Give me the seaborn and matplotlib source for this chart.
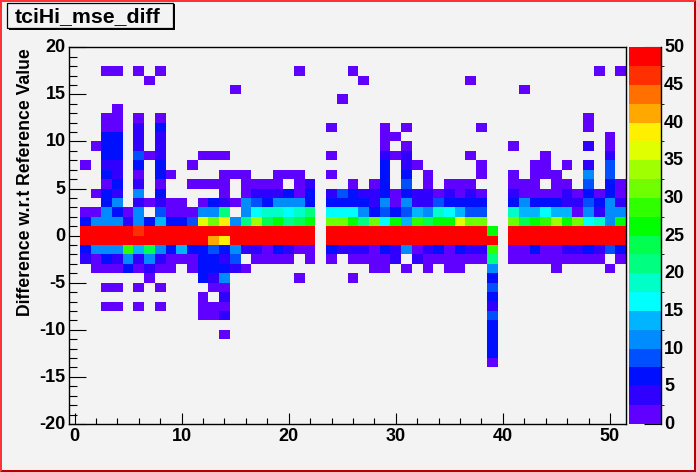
import matplotlib
matplotlib.use("Agg")
import matplotlib.pyplot as plt
from matplotlib.colors import BoundaryNorm, ListedColormap
from matplotlib.patches import Polygon, Rectangle
from matplotlib.transforms import ScaledTranslation
import numpy as np
import pandas as pd
import seaborn as sns

# counts per x bin, one dict per y bin (key of the name = lower edge of the bin)
row_17 = {3: 1, 4: 1, 6: 1, 8: 1, 21: 1, 26: 1, 49: 1, 51: 1}
row_16 = {7: 1, 27: 1, 37: 1}
row_15 = {15: 1, 42: 1}
row_14 = {25: 1}
row_13 = {4: 1}
row_12 = {3: 1, 4: 1, 6: 1, 8: 1, 48: 1}
row_11 = {3: 1, 4: 1, 6: 4, 8: 6, 24: 1, 29: 1, 31: 1, 38: 1, 48: 1}
row_10 = {3: 6, 4: 6, 6: 4, 8: 4, 29: 1, 30: 1, 50: 1}
row_9 = {2: 1, 3: 6, 4: 6, 6: 4, 8: 4, 29: 1, 31: 1, 41: 1, 48: 4, 50: 1}
row_8 = {3: 6, 4: 6, 6: 9, 7: 1, 8: 4, 12: 1, 13: 1, 14: 1, 24: 1, 29: 4, 30: 1,
         31: 4, 37: 1, 44: 1, 50: 4}
row_7 = {1: 1, 3: 4, 4: 4, 6: 6, 8: 6, 11: 1, 29: 6, 31: 4, 32: 1, 38: 1, 43: 1,
         44: 1, 46: 1, 48: 4, 50: 9}
row_6 = {3: 6, 4: 4, 6: 1, 8: 6, 9: 1, 14: 1, 15: 1, 16: 1, 19: 1, 20: 1, 21: 1,
         24: 1, 29: 6, 31: 6, 33: 1, 38: 1, 41: 1, 43: 1, 44: 1, 45: 1, 48: 11, 50: 9}
row_5 = {3: 1, 4: 6, 6: 4, 8: 1, 11: 1, 12: 1, 13: 1, 14: 1, 16: 1, 17: 1, 18: 1,
         19: 1, 21: 1, 22: 4, 26: 1, 28: 1, 29: 6, 31: 9, 33: 1, 35: 1, 36: 1, 37: 1,
         41: 1, 42: 1, 43: 1, 45: 1, 46: 1, 48: 9, 50: 6, 51: 1}
row_4 = {2: 1, 3: 6, 4: 4, 6: 11, 8: 6, 14: 1, 16: 1, 17: 4, 18: 4, 19: 4, 20: 6,
         21: 1, 22: 6, 24: 4, 25: 9, 26: 6, 27: 4, 28: 4, 29: 6, 30: 1, 31: 6, 32: 4,
         33: 4, 34: 1, 35: 4, 36: 1, 37: 4, 38: 1, 41: 4, 42: 1, 43: 1, 44: 1, 45: 1,
         46: 4, 47: 1, 48: 6, 49: 1, 50: 6, 51: 1}
row_3 = {3: 6, 4: 11, 6: 4, 7: 1, 8: 4, 9: 1, 10: 1, 12: 1, 13: 6, 14: 4, 15: 1,
         16: 11, 17: 9, 18: 6, 19: 11, 20: 11, 21: 11, 22: 6, 24: 6, 25: 6, 26: 6,
         27: 6, 28: 4, 29: 11, 30: 1, 31: 11, 32: 4, 33: 4, 34: 9, 35: 6, 36: 6, 37: 6,
         38: 6, 41: 6, 42: 11, 43: 6, 44: 6, 45: 6, 46: 4, 47: 4, 48: 9, 49: 6, 50: 11,
         51: 4}
row_2 = {1: 1, 2: 1, 3: 11, 4: 6, 5: 1, 6: 11, 8: 9, 9: 1, 10: 1, 11: 1, 12: 11,
         13: 11, 14: 21, 16: 11, 17: 16, 18: 19, 19: 19, 20: 16, 21: 19, 22: 21, 24: 16,
         25: 16, 26: 16, 27: 11, 28: 6, 29: 9, 30: 6, 31: 9, 32: 14, 33: 11, 34: 19,
         35: 16, 36: 14, 37: 9, 38: 9, 41: 19, 42: 14, 43: 14, 44: 16, 45: 14, 46: 14,
         47: 1, 48: 11, 49: 4, 50: 11, 51: 11}
row_1 = {1: 6, 2: 11, 3: 11, 4: 11, 5: 4, 6: 11, 7: 6, 8: 14, 9: 6, 10: 6, 11: 9,
         12: 36, 13: 31, 14: 39, 15: 11, 16: 21, 17: 34, 18: 24, 19: 26, 20: 21, 21: 24,
         22: 26, 24: 31, 25: 31, 26: 26, 27: 21, 28: 31, 29: 16, 30: 26, 31: 14, 32: 29,
         33: 24, 34: 26, 35: 26, 36: 36, 37: 31, 38: 31, 41: 31, 42: 24, 43: 26, 44: 29,
         45: 34, 46: 26, 47: 31, 48: 16, 49: 19, 50: 11, 51: 26}
# the two central rows saturate the scale apart from a few bins
saturated_bins = list(range(1, 23)) + list(range(24, 39)) + list(range(41, 52))
row_0 = {**dict.fromkeys(saturated_bins, 60), 6: 46, 39: 26}
row_m1 = {**dict.fromkeys(saturated_bins, 60), 13: 41, 14: 39, 39: 60}
row_m2 = {1: 6, 2: 11, 3: 11, 4: 11, 5: 29, 6: 14, 7: 24, 8: 11, 9: 6, 10: 14, 11: 6,
          12: 6, 13: 9, 14: 6, 15: 11, 16: 4, 17: 4, 18: 1, 19: 6, 20: 4, 21: 1, 22: 1,
          24: 6, 25: 4, 26: 4, 27: 4, 28: 1, 29: 6, 30: 4, 31: 11, 32: 1, 33: 4, 34: 6,
          35: 1, 36: 6, 37: 4, 38: 4, 39: 29, 41: 1, 42: 1, 43: 6, 44: 1, 45: 1, 46: 4,
          47: 4, 48: 6, 49: 4, 50: 9, 51: 6}
row_m3 = {1: 4, 2: 1, 3: 6, 4: 4, 5: 11, 6: 4, 7: 11, 8: 4, 9: 1, 10: 1, 11: 1, 12: 6,
          13: 6, 14: 4, 15: 9, 17: 1, 18: 1, 19: 1, 20: 1, 22: 1, 24: 1, 26: 1, 27: 1,
          28: 1, 29: 1, 30: 4, 32: 4, 33: 1, 34: 1, 35: 1, 36: 1, 37: 1, 38: 1, 39: 21,
          41: 1, 42: 1, 43: 1, 44: 1, 45: 1, 46: 1, 47: 1, 48: 1, 49: 1, 51: 1}
row_m4 = {2: 1, 3: 1, 4: 1, 5: 6, 6: 1, 7: 4, 8: 1, 9: 1, 11: 1, 12: 6, 13: 6, 14: 6,
          15: 4, 16: 1, 28: 1, 29: 1, 31: 1, 33: 1, 35: 1, 36: 1, 39: 11, 45: 1, 50: 1}
row_m5 = {7: 1, 12: 6, 13: 4, 14: 11, 21: 1, 26: 1, 39: 6}
row_m6 = {3: 1, 4: 1, 6: 1, 8: 1, 13: 1, 14: 1, 39: 9}
row_m7 = {12: 1, 14: 4, 39: 6}
row_m8 = {3: 1, 4: 1, 6: 1, 8: 1, 12: 1, 13: 1, 14: 1, 39: 4}
row_m9 = {12: 1, 13: 1, 14: 4, 39: 9}
row_m10 = {39: 6}
row_m11 = {14: 1, 39: 6}
row_m12 = {39: 6}
row_m13 = {39: 6}
row_m14 = {39: 1}

rows = {17: row_17, 16: row_16, 15: row_15, 14: row_14, 13: row_13, 12: row_12,
        11: row_11, 10: row_10, 9: row_9, 8: row_8, 7: row_7, 6: row_6, 5: row_5,
        4: row_4, 3: row_3, 2: row_2, 1: row_1, 0: row_0, -1: row_m1, -2: row_m2,
        -3: row_m3, -4: row_m4, -5: row_m5, -6: row_m6, -7: row_m7, -8: row_m8,
        -9: row_m9, -10: row_m10, -11: row_m11, -12: row_m12, -13: row_m13, -14: row_m14}

palette = ["#6000ff", "#3000ff", "#0010ff", "#0050ff", "#008cff", "#00b4ff", "#00ffff",
           "#00ffc8", "#00ff80", "#00ff50", "#00ff00", "#30ff00", "#70ff00", "#a0ff00",
           "#e0ff00", "#fff000", "#ffa800", "#ff7000", "#ff3000", "#ff0000"]
levels = np.linspace(0, 50, 21)
x_ticks = [0, 10, 20, 30, 40, 50]
y_ticks = [20, 15, 10, 5, 0, -5, -10, -15, -20]
z_ticks = [0, 5, 10, 15, 20, 25, 30, 35, 40, 45, 50]

title = "tciHi_mse_diff"
ylabel = "Difference w.r.t Reference Value"

W, H = 696, 472
BG = "#f3f3f3"

sns.set_style("white")
plt.rcParams["font.family"] = ["Liberation Sans", "DejaVu Sans"]
plt.rcParams["font.weight"] = "bold"
plt.rcParams["text.color"] = "black"
plt.rcParams["axes.labelcolor"] = "black"
plt.rcParams["xtick.color"] = "black"
plt.rcParams["ytick.color"] = "black"

counts = pd.DataFrame(0, index=range(19, -21, -1), columns=range(0, 52))
for y_bin, row in rows.items():
    for x_bin, n in row.items():
        counts.loc[y_bin, x_bin] = n


def box(left, top, right, bottom):
    return [left / W, 1 - bottom / H, (right - left) / W, (bottom - top) / H]


fig = plt.figure(figsize=(W / 100, H / 100), dpi=100, facecolor=BG)
ax = fig.add_axes(box(69.2, 47.3, 626, 424))
cax = fig.add_axes(box(629, 47.3, 661.3, 424))

sns.heatmap(counts, mask=counts == 0, ax=ax, cbar_ax=cax,
            cmap=ListedColormap(palette), norm=BoundaryNorm(levels, len(palette), clip=True),
            cbar_kws={"ticks": z_ticks}, xticklabels=False, yticklabels=False)

ax.set_facecolor(BG)
ax.set_xlim(0, 52)
ax.set_ylim(40, 0)
for side in ax.spines.values():
    side.set_visible(True)
    side.set_color("black")
    side.set_linewidth(1.0)

# heatmap cells sit between integers, ticks are at bin centres on x and edges on y
ax.set_xticks([v + 0.5 for v in x_ticks])
ax.set_xticklabels(x_ticks, rotation=0, fontsize=13, fontweight="bold")
ax.set_xticks([v + 0.5 for v in range(0, 52, 2) if v not in x_ticks], minor=True)
ax.set_yticks([20 - v for v in y_ticks])
ax.set_yticklabels(y_ticks, rotation=0, fontsize=13, fontweight="bold")
ax.set_yticks([20 - v for v in range(-19, 20) if v not in y_ticks], minor=True)
ax.tick_params(axis="x", which="major", direction="in", length=8, width=0.8, bottom=True, pad=3)
ax.tick_params(axis="x", which="minor", direction="in", length=4, width=0.8, bottom=True)
ax.tick_params(axis="y", which="major", direction="in", length=12.5, width=0.8, left=True, pad=2.5)
ax.tick_params(axis="y", which="minor", direction="in", length=6, width=0.8, left=True)
ax.set_xlabel("")
ax.set_ylabel(ylabel, fontsize=12.7, fontweight="bold")
ax.yaxis.set_label_coords((34.5 - 69.2) / (626 - 69.2), (424 - 182.5) / 376.7)

cax.set_facecolor(BG)
for side in cax.spines.values():
    side.set_visible(False)
cax.spines["right"].set_visible(True)
cax.spines["right"].set_linewidth(1.0)
cax.spines["right"].set_color("black")
cax.tick_params(axis="y", which="major", direction="in", right=True, length=12.5, width=0.8,
                labelsize=13, pad=2)
for lab in cax.get_yticklabels():
    lab.set_fontweight("bold")

# y labels sit a touch above their ticks in the original
nudge = ScaledTranslation(0, 1.5 / 100, fig.dpi_scale_trans)
for lab in ax.get_yticklabels() + cax.get_yticklabels():
    lab.set_transform(lab.get_transform() + nudge)

# raised red frame of the canvas
fig.patches.append(Polygon([(0, 0), (2 / W, 2 / H), (2 / W, 1 - 2 / H), (1 - 2 / W, 1 - 2 / H),
                            (1, 1), (0, 1)], transform=fig.transFigure, fc="#ff3333", ec="none"))
fig.patches.append(Polygon([(0, 0), (2 / W, 2 / H), (1 - 2 / W, 2 / H), (1 - 2 / W, 1 - 2 / H),
                            (1, 1), (1, 0)], transform=fig.transFigure, fc="#b30000", ec="none"))

# title box with its little shadow
fig.patches.append(Rectangle((8.5 / W, 1 - 29.5 / H), 166 / W, 26 / H, transform=fig.transFigure,
                             fc="black", ec="none"))
fig.patches.append(Rectangle((6.5 / W, 1 - 28 / H), 166 / W, 25.3 / H, transform=fig.transFigure,
                             fc=BG, ec="black", lw=0.9))
fig.text(88 / W, 1 - 16.5 / H, title, ha="center", va="center", fontsize=15.3, fontweight="bold")

fig.savefig("out.png", dpi=100, facecolor=BG)
